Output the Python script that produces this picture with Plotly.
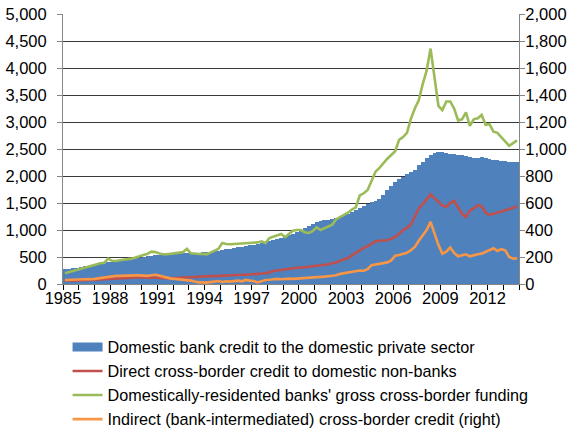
import plotly.graph_objects as go

# Quarterly data, 1985Q1 .. 2013Q4
years = list(range(1985, 2014))
quarters = [y + q / 4 + 0.125 for y in years for q in range(4)]

domestic_credit = [
    270, 280, 290, 300,  310, 325, 340, 350,  365, 375, 390, 400,  410, 420, 435, 445,
    455, 470, 480, 490,  500, 510, 520, 530,  540, 545, 550, 555,  560, 565, 565, 570,
    570, 575, 580, 585,  590, 600, 610, 620,  630, 645, 655, 665,  680, 690, 705, 715,
    730, 745, 760, 775,  790, 810, 830, 850,  870, 900, 930, 960,  990, 1030, 1070, 1110,
    1140, 1160, 1180, 1190,  1210, 1230, 1250, 1270,  1300, 1340, 1370, 1400,  1440, 1480, 1510, 1540,
    1580, 1650, 1740, 1820,  1880, 1950, 1990, 2040,  2080, 2120, 2200, 2260,  2330, 2380, 2430, 2450,
    2440, 2420, 2410, 2400,  2390, 2380, 2370, 2350,  2340, 2340, 2350, 2340,  2310, 2300, 2290, 2280,
    2270, 2265, 2260, 2260,
]

direct_cross_border = [
    60, 60, 65, 65,  70, 70, 75, 75,  80, 85, 90, 95,  100, 105, 110, 115,
    115, 120, 120, 120,  120, 125, 120, 115,  110, 105, 100, 105,  110, 115, 120, 125,
    130, 130, 135, 135,  140, 145, 145, 150,  155, 160, 160, 165,  165, 170, 170, 175,
    180, 185, 190, 200,  215, 240, 250, 260,  270, 285, 295, 300,  300, 310, 315, 320,
    330, 340, 350, 365,  385, 400, 430, 450,  480, 530, 580, 620,  670, 700, 740, 790,
    800, 800, 810, 840,  870, 930, 1000, 1040,  1100, 1250, 1400, 1480,  1560, 1660, 1590, 1520,
    1450, 1430, 1500, 1540,  1420, 1300, 1240, 1360,  1400, 1460, 1440, 1320,  1280, 1300, 1320, 1340,
    1360, 1380, 1410, 1440,
]

gross_funding = [
    200, 220, 240, 260,  285, 300, 320, 345,  370, 385, 395, 470,  430, 425, 440, 455,
    460, 470, 495, 510,  545, 560, 600, 590,  565, 550, 550, 560,  560, 570, 590, 650,
    570, 565, 555, 560,  550, 580, 620, 650,  760, 740, 735, 740,  750, 745, 750, 760,
    765, 770, 790, 760,  850, 880, 905, 925,  870, 930, 985, 1000,  1000, 960, 945, 980,
    1050, 1000, 1030, 1060,  1100, 1200, 1240, 1280,  1320, 1380, 1420, 1640,  1680, 1740, 1900, 2080,
    2150, 2240, 2320, 2390,  2460, 2670, 2720, 2800,  3060, 3250, 3400, 3700,  3950, 4360, 3800, 3300,
    3220, 3380, 3380, 3250,  3030, 3050, 3180, 2930,  3050, 3070, 3130, 2950,  2960, 2820, 2800, 2720,
    2620, 2560, 2610, 2660,
]

indirect_cross_border = [
    30, 30, 32, 35,  35, 35, 36, 35,  40, 45, 50, 55,  58, 60, 60, 62,
    62, 63, 64, 64,  62, 60, 65, 68,  62, 55, 45, 40,  38, 35, 32, 30,
    25, 18, 12, 12,  10, 14, 20, 22,  15, 20, 18, 22,  25, 20, 30, 25,
    22, 12, 20, 30,  32, 35, 38, 35,  38, 40, 38, 40,  40, 42, 42, 45,
    48, 50, 55, 58,  60, 65, 75, 80,  85, 90, 95, 100,  98, 110, 140, 145,
    148, 150, 160, 175,  210, 215, 222, 232,  250, 275, 320, 360,  400, 460, 370, 290,
    225, 240, 270, 230,  205, 210, 220, 205,  215, 220, 225, 240,  255, 265, 245, 258,
    250, 200, 188, 190,
]

x_tick_labels = [str(y) if (y - 1985) % 3 == 0 else "" for y in years] + [""]
x_tick_vals = years + [2014]

names = [
    "Domestic bank credit to the domestic private sector",
    "Direct cross-border credit to domestic non-banks",
    "Domestically-residented banks' gross cross-border funding",
    "Indirect (bank-intermediated) cross-border credit (right)",
]

FONT = "Liberation Sans, Arial, sans-serif"
BLUE, RED, GREEN, ORANGE = "#4F81BD", "#C0504D", "#9BBB59", "#F79646"

fig = go.Figure()
fig.add_trace(go.Bar(x=quarters, y=domestic_credit, width=0.25, name=names[0], showlegend=False,
                     marker=dict(color=BLUE, line=dict(width=0))))
# legend proxy giving the wide rectangular swatch of the column series
fig.add_trace(go.Scatter(x=[None], y=[None], mode="lines", name=names[0],
                         line=dict(color=BLUE, width=9)))
fig.add_trace(go.Scatter(x=quarters, y=direct_cross_border, mode="lines", name=names[1],
                         line=dict(color=RED, width=2.6)))
fig.add_trace(go.Scatter(x=quarters, y=gross_funding, mode="lines", name=names[2],
                         line=dict(color=GREEN, width=2.6)))
fig.add_trace(go.Scatter(x=quarters, y=indirect_cross_border, mode="lines", name=names[3],
                         yaxis="y2", line=dict(color=ORANGE, width=2.6)))

fig.update_layout(
    width=577, height=430,
    margin=dict(l=63, r=58, t=14, b=146, autoexpand=False),
    paper_bgcolor="white", plot_bgcolor="white",
    font=dict(family=FONT, size=16.5, color="#000000"),
    bargap=0,
    showlegend=True,
    legend=dict(x=0.01, y=-0.17, xanchor="left", yanchor="top", orientation="v",
                font=dict(size=16.2, color="#000000"), bgcolor="rgba(0,0,0,0)",
                traceorder="normal", itemwidth=30),
    xaxis=dict(range=[1985, 2014], tickmode="array", tickvals=x_tick_vals, ticktext=x_tick_labels,
               ticks="outside", ticklen=5, tickcolor="#000000", showgrid=False,
               showline=True, linecolor="#868686", zeroline=False, automargin=False,
               tickfont=dict(size=16.5), ticklabelstandoff=-6),
    yaxis=dict(range=[0, 5000], dtick=500, tickformat=",", showgrid=True, gridcolor="#3a3a3a",
               gridwidth=1, showline=True, linecolor="#868686", ticks="outside", ticklen=5,
               tickcolor="#868686", zeroline=False, tickfont=dict(size=16.5),
               ticklabelstandoff=7, automargin=False),
    yaxis2=dict(range=[0, 2000], dtick=200, tickformat=",", overlaying="y", side="right",
                showgrid=False, showline=True, linecolor="#868686", ticks="outside", ticklen=5,
                tickcolor="#868686", zeroline=False, tickfont=dict(size=16.5),
                ticklabelstandoff=-3, automargin=False),
)

fig.write_html("out.html", config={"displayModeBar": False},
               post_script="document.body.style.margin='0px';document.body.style.overflow='hidden';")
